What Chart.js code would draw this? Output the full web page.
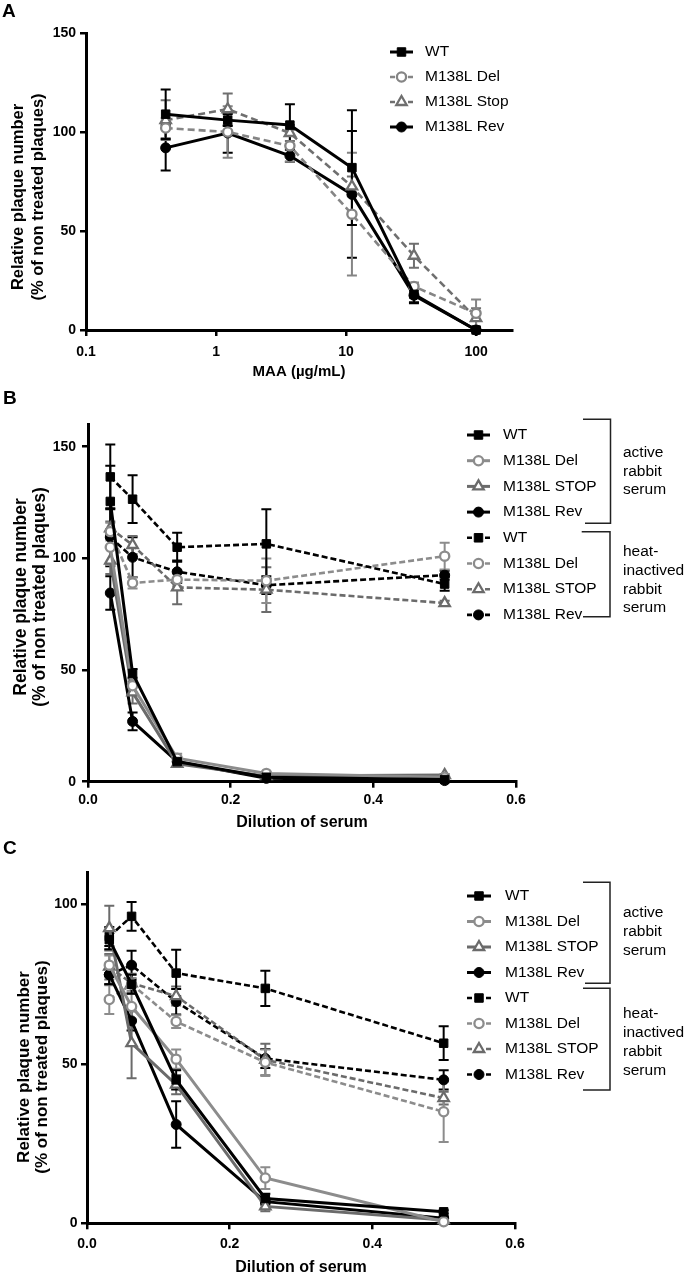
<!DOCTYPE html>
<html><head><meta charset="utf-8">
<script src="https://cdn.jsdelivr.net/npm/chart.js@4.4.1/dist/chart.umd.min.js"></script>
<style>
html,body{margin:0;padding:0;background:#fff;}
body{width:689px;height:1276px;position:relative;overflow:hidden;}
canvas{position:absolute;left:0;display:block;}
</style></head><body>
<canvas id="cA" width="689" height="388" style="top:0px"></canvas>
<canvas id="cB" width="689" height="447" style="top:388px"></canvas>
<canvas id="cC" width="689" height="441" style="top:835px"></canvas>
<script>
const FONT = "'Liberation Sans', Arial, Helvetica, sans-serif";

// ---------- Panel A data ----------
const maaDoses = [0.41, 1.23, 3.7, 11.1, 33.3, 100];
const maaTicks = [0.1, 1, 10, 100];
const plaqueTicksA = [0, 50, 100, 150];
const seriesLabelsA = ['WT', 'M138L Del', 'M138L Stop', 'M138L Rev'];
const aWT = [109, 106, 103.5, 82, 18, 0];
const aWTErr = [12.5, 3, 10.5, 29, 4, 0];
const aDel = [102, 100, 93, 58.5, 22, 8.4];
const aDelErr = [5, 13, 8, 31, 2, 7];
const aStop = [106, 111.5, 99.5, 72.5, 37.5, 6];
const aStopErr = [10, 8, 4, 5, 6, 5];
const aRev = [92, 99.5, 88, 68.5, 17.5, 0];
const aRevErr = [11.5, 10, 3, 32, 4, 0];

// ---------- Panels B & C data ----------
const dilutions = [0.03125, 0.0625, 0.125, 0.25, 0.5];
const dilutionTicks = [0, 0.2, 0.4, 0.6];
const plaqueTicksB = [0, 50, 100, 150];
const plaqueTicksC = [0, 50, 100];
const seriesLabelsBC = ['WT', 'M138L Del', 'M138L STOP', 'M138L Rev'];
const groupActive = ['active', 'rabbit', 'serum'];
const groupHeat = ['heat-', 'inactived', 'rabbit', 'serum'];

// B active serum
const bWTa = [125.5, 48.5, 9, 2, 1];        const bWTaErr = [16, 2, 1, 0.5, 0.5];
const bDela = [105, 43, 10.5, 3.7, 2];      const bDelaErr = [8, 3, 2, 0.5, 0.5];
const bStopa = [99, 40, 8, 2.5, 3];         const bStopaErr = [6, 5, 1, 0.5, 0.5];
const bReva = [84.5, 27, 9, 1.5, 0.5];      const bRevaErr = [7.5, 4, 1, 0.3, 0.3];
// B heat-inactivated serum
const bWTh = [136.5, 126.5, 105, 106.5, 88.5]; const bWThErr = [14.5, 10.7, 6.5, 15.5, 3];
const bDelh = [112, 89, 90.5, 90, 101];         const bDelhErr = [4, 2.5, 3, 10, 6];
const bStoph = [113.5, 106, 87, 86, 80];        const bStophErr = [3, 4, 7.5, 10, 1];
const bRevh = [109.5, 100.5, 94, 88, 92.5];     const bRevhErr = [13, 9, 5, 4, 2];

// C active serum
const cWTa = [89, 75, 45, 7.8, 3.6];        const cWTaErr = [3, 3, 3, 1.5, 0.5];
const cDela = [81, 68, 51.5, 14.2, 0.5];    const cDelaErr = [3, 4, 3, 3.4, 0.5];
const cStopa = [92.6, 56.5, 43.5, 5.3, 1];  const cStopaErr = [7, 11, 3, 1.5, 0.5];
const cReva = [78, 63.5, 31, 6.8, 1.6];     const cRevaErr = [3, 3, 7.3, 1, 0.5];
// C heat-inactivated serum
const cWTh = [90, 96.3, 78.5, 73.7, 56.5];  const cWThErr = [3, 4.5, 7.3, 5.5, 5.3];
const cDelh = [70.2, 75, 63.3, 50.5, 35];   const cDelhErr = [4.5, 2, 2, 4, 9.5];
const cStoph = [80.5, 75.3, 71.3, 51.3, 39.3]; const cStophErr = [4, 3, 3, 5, 2];
const cRevh = [78, 81, 69.5, 51.7, 45];     const cRevhErr = [3, 4.5, 4, 3, 3];

// ---------- styles ----------
const BLACK = '#000000';
function style(kind, color, dashed, dash) {
  const s = {
    borderColor: color, borderWidth: dashed ? 2.6 : 3, borderDash: dashed ? dash : [],
    fill: false, tension: 0, clip: false, pointHoverRadius: 0,
    pointBorderColor: color
  };
  if (kind === 'wt') Object.assign(s, {pointStyle: 'rect', pointRadius: 6, pointBackgroundColor: color, pointBorderWidth: 1});
  if (kind === 'rev') Object.assign(s, {pointStyle: 'circle', pointRadius: 5, pointBackgroundColor: color, pointBorderWidth: 1});
  if (kind === 'del') Object.assign(s, {pointStyle: 'circle', pointRadius: 4.6, pointBackgroundColor: '#ffffff', pointBorderWidth: 2.3});
  if (kind === 'stop') Object.assign(s, {pointStyle: 'triangle', pointRadius: 6, pointBackgroundColor: '#ffffff', pointBorderWidth: 2.3});
  return s;
}
function series(label, xs, ys, errs, st) {
  return Object.assign({label: label, data: xs.map((x, i) => ({x: x, y: ys[i]})), err: errs}, st);
}

// ---------- drawing helpers ----------
function drawMarker(ctx, ds, x, y) {
  ctx.save();
  ctx.setLineDash([]);
  ctx.fillStyle = ds.pointBackgroundColor;
  ctx.strokeStyle = ds.pointBorderColor;
  ctx.lineWidth = ds.pointBorderWidth;
  Chart.helpers.drawPoint(ctx, {pointStyle: ds.pointStyle, radius: ds.pointRadius, rotation: 0, borderWidth: ds.pointBorderWidth}, x, y);
  ctx.restore();
}
function drawErrorBars(chart) {
  const ctx = chart.ctx, xs = chart.scales.x, ys = chart.scales.y;
  const dsets = chart.data.datasets;
  for (let k = dsets.length - 1; k >= 0; k--) {
    const ds = dsets[k];
    if (!ds.err) continue;
    ctx.save();
    ctx.strokeStyle = ds.borderColor; ctx.lineWidth = 2; ctx.setLineDash([]);
    ds.data.forEach((p, j) => {
      const e = ds.err[j]; if (!e) return;
      const x = xs.getPixelForValue(p.x);
      const y1 = ys.getPixelForValue(p.y + e);
      const lo = p.y - e;
      const y2 = ys.getPixelForValue(Math.max(lo, 0));
      ctx.beginPath();
      ctx.moveTo(x, y1); ctx.lineTo(x, y2);
      ctx.moveTo(x - 5, y1); ctx.lineTo(x + 5, y1);
      if (lo > 0) { ctx.moveTo(x - 5, y2); ctx.lineTo(x + 5, y2); }
      ctx.stroke();
    });
    ctx.restore();
  }
}
function decoPlugin(cfg) {
  return {
    id: 'deco',
    beforeDatasetsDraw(chart) { drawErrorBars(chart); },
    afterDraw(chart) {
      const ctx = chart.ctx;
      ctx.save();
      // panel letter
      ctx.fillStyle = '#000';
      ctx.font = 'bold 19px ' + FONT;
      ctx.textAlign = 'left'; ctx.textBaseline = 'middle';
      ctx.fillText(cfg.letter, cfg.letterX, cfg.letterY);
      // y-axis title (two lines)
      ctx.font = 'bold ' + cfg.yTitleSize + 'px ' + FONT;
      ctx.textAlign = 'center';
      cfg.yTitle.forEach((t, i) => {
        ctx.save();
        ctx.translate(cfg.yTitleX[i], cfg.yTitleY);
        ctx.rotate(-Math.PI / 2);
        ctx.fillText(t, 0, 0);
        ctx.restore();
      });
      // legend
      const L = cfg.legend;
      ctx.font = '15.5px ' + FONT;
      ctx.textAlign = 'left'; ctx.textBaseline = 'middle';
      chart.data.datasets.forEach((ds, i) => {
        const y = L.y0 + L.dy * i;
        const xm = (L.x1 + L.x2) / 2;
        ctx.save();
        ctx.strokeStyle = ds.borderColor; ctx.lineWidth = ds.borderWidth;
        ctx.beginPath();
        if (ds.borderDash && ds.borderDash.length) {
          ctx.moveTo(L.x1, y); ctx.lineTo(L.x1 + 5, y);
          ctx.moveTo(L.x2 - 5, y); ctx.lineTo(L.x2, y);
        } else {
          ctx.moveTo(L.x1, y); ctx.lineTo(L.x2, y);
        }
        ctx.stroke();
        ctx.restore();
        drawMarker(ctx, ds, xm, y);
        ctx.fillStyle = '#000';
        ctx.fillText(ds.label, L.tx, y);
      });
      // brackets & group labels
      if (cfg.brackets) {
        ctx.strokeStyle = '#222'; ctx.lineWidth = 1.5;
        cfg.brackets.forEach(b => {
          ctx.beginPath();
          ctx.moveTo(b.xa, b.top); ctx.lineTo(b.x, b.top);
          ctx.lineTo(b.x, b.bottom); ctx.lineTo(b.xb, b.bottom);
          ctx.stroke();
          ctx.fillStyle = '#000';
          ctx.font = '15.5px ' + FONT;
          b.lines.forEach((t, k) => ctx.fillText(t, b.tx, b.ty + k * b.tdy));
        });
      }
      ctx.restore();
    }
  };
}

function makeChart(id, cfg) {
  const tickFont = {family: FONT, size: 14, weight: 'bold'};
  const gridOpt = {drawOnChartArea: false, drawTicks: true, tickLength: 6, color: '#000', lineWidth: 2.5};
  const borderOpt = {display: true, color: '#000', width: 3};
  return new Chart(document.getElementById(id), {
    type: 'line',
    data: {datasets: cfg.datasets},
    options: {
      responsive: false, animation: false, events: [],
      layout: {padding: {left: 0, top: cfg.top, right: cfg.right, bottom: 0}},
      plugins: {legend: {display: false}, tooltip: {enabled: false}},
      scales: {
        x: {
          type: cfg.xType, min: cfg.xMin, max: cfg.xMax,
          afterBuildTicks: s => { s.ticks = cfg.xTicks.map(v => ({value: v})); },
          afterFit: s => { s.height = cfg.xHeight; },
          ticks: {font: tickFont, color: '#000', padding: cfg.xTickPad, autoSkip: false, maxRotation: 0,
                  callback: cfg.xFmt},
          grid: gridOpt, border: borderOpt,
          title: {display: true, text: cfg.xTitle, color: '#000',
                  font: {family: FONT, size: cfg.xTitleSize, weight: 'bold', lineHeight: 1},
                  padding: {top: 0, bottom: cfg.xTitlePad}}
        },
        y: {
          type: 'linear', min: 0, max: cfg.yMax,
          afterBuildTicks: s => { s.ticks = cfg.yTicks.map(v => ({value: v})); },
          afterFit: s => { s.width = cfg.yWidth; },
          ticks: {font: tickFont, color: '#000', padding: cfg.yTickPad, autoSkip: false},
          grid: gridOpt, border: borderOpt,
          title: {display: false}
        }
      }
    },
    plugins: [decoPlugin(cfg)]
  });
}

// ---------- Panel A ----------
const greyA1 = '#858585', greyA2 = '#6f6f6f';
makeChart('cA', {
  datasets: [
    series(seriesLabelsA[0], maaDoses, aWT, aWTErr, style('wt', BLACK, false)),
    series(seriesLabelsA[1], maaDoses, aDel, aDelErr, style('del', greyA1, true, [7, 4])),
    series(seriesLabelsA[2], maaDoses, aStop, aStopErr, style('stop', greyA2, true, [7, 4])),
    series(seriesLabelsA[3], maaDoses, aRev, aRevErr, style('rev', BLACK, false))
  ],
  top: 33, right: 177, yWidth: 86, xHeight: 58,
  xType: 'logarithmic', xMin: 0.1, xMax: 189, xTicks: maaTicks, xFmt: v => String(v),
  xTickPad: 8, xTitle: 'MAA (µg/mL)', xTitleSize: 15, xTitlePad: 9,
  yMax: 150, yTicks: plaqueTicksA, yTickPad: 4,
  letter: 'A', letterX: 2, letterY: 12,
  yTitle: ['Relative plaque number', '(% of non treated plaques)'], yTitleSize: 16.5,
  yTitleX: [18, 38], yTitleY: 197,
  legend: {x1: 390, x2: 413, tx: 425, y0: 52, dy: 25}
});

// ---------- Panel B ----------
const greyDel = '#8c8c8c', greyStop = '#6b6b6b';
const heatDash = [6, 3];
makeChart('cB', {
  datasets: [
    series(seriesLabelsBC[0], dilutions, bWTa, bWTaErr, style('wt', BLACK, false)),
    series(seriesLabelsBC[1], dilutions, bDela, bDelaErr, style('del', greyDel, false)),
    series(seriesLabelsBC[2], dilutions, bStopa, bStopaErr, style('stop', greyStop, false)),
    series(seriesLabelsBC[3], dilutions, bReva, bRevaErr, style('rev', BLACK, false)),
    series(seriesLabelsBC[0], dilutions, bWTh, bWThErr, style('wt', BLACK, true, heatDash)),
    series(seriesLabelsBC[1], dilutions, bDelh, bDelhErr, style('del', greyDel, true, heatDash)),
    series(seriesLabelsBC[2], dilutions, bStoph, bStophErr, style('stop', greyStop, true, heatDash)),
    series(seriesLabelsBC[3], dilutions, bRevh, bRevhErr, style('rev', BLACK, true, heatDash))
  ],
  top: 36.4, right: 173, yWidth: 88, xHeight: 53.3,
  xType: 'linear', xMin: 0, xMax: 0.6, xTicks: dilutionTicks, xFmt: v => Number(v).toFixed(1),
  xTickPad: 4, xTitle: 'Dilution of serum', xTitleSize: 16, xTitlePad: 4,
  yMax: 160, yTicks: plaqueTicksB, yTickPad: 6,
  letter: 'B', letterX: 3, letterY: 11,
  yTitle: ['Relative plaque number', '(% of non treated plaques)'], yTitleSize: 17.5,
  yTitleX: [21, 40], yTitleY: 209,
  legend: {x1: 467, x2: 490, tx: 503, y0: 47, dy: 25.7},
  brackets: [
    {xa: 583, x: 610.5, xb: 585, top: 31.3, bottom: 135.3, lines: groupActive, tx: 623, ty: 64.7, tdy: 18.7},
    {xa: 581.7, x: 610, xb: 583, top: 143.7, bottom: 228.7, lines: groupHeat, tx: 623, ty: 163.7, tdy: 18.8}
  ]
});

// ---------- Panel C ----------
makeChart('cC', {
  datasets: [
    series(seriesLabelsBC[0], dilutions, cWTa, cWTaErr, style('wt', BLACK, false)),
    series(seriesLabelsBC[1], dilutions, cDela, cDelaErr, style('del', greyDel, false)),
    series(seriesLabelsBC[2], dilutions, cStopa, cStopaErr, style('stop', greyStop, false)),
    series(seriesLabelsBC[3], dilutions, cReva, cRevaErr, style('rev', BLACK, false)),
    series(seriesLabelsBC[0], dilutions, cWTh, cWThErr, style('wt', BLACK, true, heatDash)),
    series(seriesLabelsBC[1], dilutions, cDelh, cDelhErr, style('del', greyDel, true, heatDash)),
    series(seriesLabelsBC[2], dilutions, cStoph, cStophErr, style('stop', greyStop, true, heatDash)),
    series(seriesLabelsBC[3], dilutions, cRevh, cRevhErr, style('rev', BLACK, true, heatDash))
  ],
  top: 37.7, right: 174, yWidth: 87, xHeight: 52.7,
  xType: 'linear', xMin: 0, xMax: 0.6, xTicks: dilutionTicks, xFmt: v => Number(v).toFixed(1),
  xTickPad: 6.5, xTitle: 'Dilution of serum', xTitleSize: 16, xTitlePad: 0,
  yMax: 110, yTicks: plaqueTicksC, yTickPad: 3.5,
  letter: 'C', letterX: 3, letterY: 14,
  yTitle: ['Relative plaque number', '(% of non treated plaques)'], yTitleSize: 17,
  yTitleX: [24, 42], yTitleY: 232,
  legend: {x1: 467, x2: 491, tx: 505, y0: 61, dy: 25.5},
  brackets: [
    {xa: 583, x: 610, xb: 585, top: 47.3, bottom: 148.3, lines: groupActive, tx: 623, ty: 77.7, tdy: 19},
    {xa: 583, x: 610, xb: 583, top: 153.3, bottom: 255, lines: groupHeat, tx: 623, ty: 178.3, tdy: 19}
  ]
});
</script>
</body></html>
